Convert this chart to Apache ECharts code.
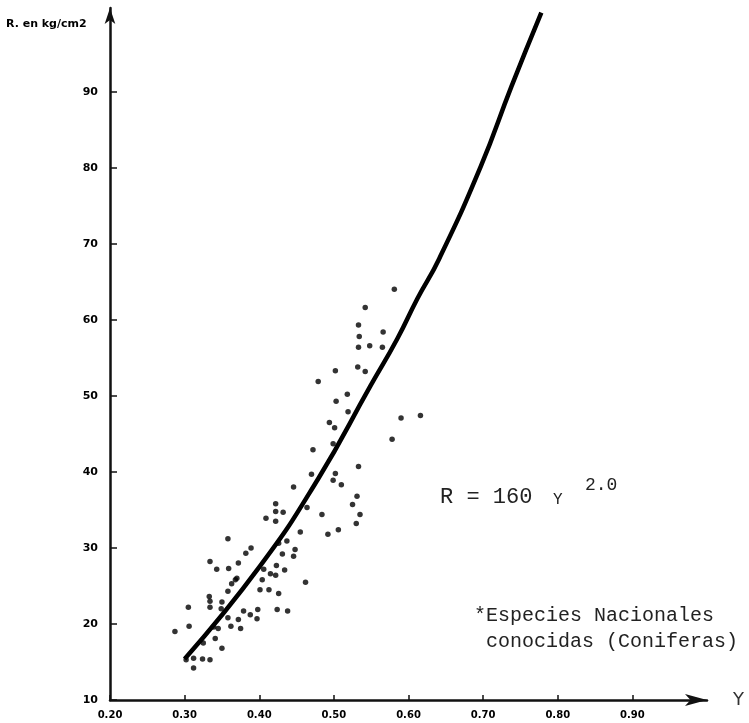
<!DOCTYPE html>
<html lang="es">
<head>
	<meta charset="UTF-8">
	<title>R vs Y</title>
	<script src="https://cdn.jsdelivr.net/npm/echarts@6/dist/echarts.min.js"></script>
</head>
<body style="margin:0;background:#fff;">
	<div id="main" style="width: 749px; height: 723px;"></div>
	<script type="text/javascript">
		// tick values of both axes
		const xTicks = [0.2, 0.3, 0.4, 0.5, 0.6, 0.7, 0.8, 0.9];
		const yTicks = [10, 20, 30, 40, 50, 60, 70, 80, 90];

		// measured points: Y (density) and R (kg/cm2)
		const dotY = [0.542, 0.581, 0.533, 0.534, 0.566, 0.533, 0.548, 0.565, 0.502, 0.532,
			0.542, 0.479, 0.518, 0.503, 0.519, 0.494, 0.501, 0.590, 0.616, 0.578,
			0.499, 0.472, 0.533, 0.470, 0.502, 0.499, 0.510, 0.446, 0.531, 0.525,
			0.535, 0.530, 0.422, 0.422, 0.432, 0.422, 0.409, 0.464, 0.484, 0.455,
			0.492, 0.506, 0.358, 0.389, 0.382, 0.437, 0.448, 0.446, 0.431, 0.426,
			0.334, 0.372, 0.343, 0.359, 0.423, 0.434, 0.406, 0.415, 0.422, 0.370,
			0.368, 0.363, 0.462, 0.404, 0.358, 0.401, 0.413, 0.426, 0.333, 0.334,
			0.305, 0.334, 0.350, 0.349, 0.379, 0.398, 0.424, 0.438, 0.358, 0.372,
			0.388, 0.397, 0.306, 0.339, 0.345, 0.362, 0.375, 0.287, 0.341, 0.325,
			0.350, 0.302, 0.312, 0.324, 0.334, 0.312];
		const dotR = [61.6, 64.0, 59.3, 57.8, 58.4, 56.4, 56.6, 56.4, 53.3, 53.8,
			53.2, 51.9, 50.2, 49.3, 47.9, 46.5, 45.8, 47.1, 47.4, 44.3,
			43.7, 42.9, 40.7, 39.7, 39.8, 38.9, 38.3, 38.0, 36.8, 35.7,
			34.4, 33.2, 35.8, 34.8, 34.7, 33.5, 33.9, 35.3, 34.4, 32.1,
			31.8, 32.4, 31.2, 30.0, 29.3, 30.9, 29.8, 28.9, 29.2, 30.6,
			28.2, 28.0, 27.2, 27.3, 27.7, 27.1, 27.2, 26.6, 26.4, 26.0,
			25.8, 25.3, 25.5, 25.8, 24.3, 24.5, 24.5, 24.0, 23.6, 23.0,
			22.2, 22.2, 22.9, 22.0, 21.7, 21.9, 21.9, 21.7, 20.8, 20.6,
			21.2, 20.7, 19.7, 19.6, 19.4, 19.7, 19.4, 19.0, 18.1, 17.5,
			16.8, 15.3, 15.5, 15.4, 15.3, 14.2];

		// fitted curve as drawn (R = 160 Y^2.0)
		const curveY = [0.300, 0.401, 0.479, 0.549, 0.585, 0.612, 0.641, 0.697, 0.738, 0.778];
		const curveR = [15.4, 27.6, 39.1, 51.3, 57.5, 62.8, 68.0, 80.2, 90.7, 100.4];

		const chart = echarts.init(document.getElementById('main'));

		const dots = dotY.map((v, i) => [v, dotR[i]]);
		const curve = curveY.map((v, i) => [v, curveR[i]]);

		const mono = 'Liberation Mono';

		chart.setOption({
			animation: false,
			backgroundColor: '#fff',
			grid: { left: 110, right: 42, top: 8, bottom: 23 },
			xAxis: {
				type: 'value',
				min: 0.2,
				max: 1.0,
				name: 'Y',
				nameLocation: 'end',
				nameGap: 26,
				nameTextStyle: { fontSize: 18, color: '#333', fontFamily: 'DejaVu Sans', verticalAlign: 'middle', padding: [6, 0, 0, 0] },
				splitLine: { show: false },
				axisLine: {
					lineStyle: { color: '#111', width: 2.5 },
					symbol: ['none', 'arrow'],
					symbolSize: [9, 22]
				},
				axisTick: { inside: true, length: 5, customValues: xTicks, lineStyle: { color: '#111', width: 1.5 } },
				axisLabel: {
					customValues: xTicks,
					formatter: v => v.toFixed(2),
					margin: 10,
					color: '#000',
					fontSize: 10,
					fontWeight: 'bold',
					fontFamily: 'DejaVu Sans'
				}
			},
			yAxis: {
				type: 'value',
				min: 10,
				max: 101,
				splitLine: { show: false },
				axisLine: {
					lineStyle: { color: '#111', width: 2.5 },
					symbol: ['none', 'arrow'],
					symbolSize: [8, 16]
				},
				axisTick: { inside: true, length: 7, customValues: yTicks, lineStyle: { color: '#111', width: 1.5 } },
				axisLabel: {
					customValues: yTicks,
					margin: 12,
					color: '#000',
					fontSize: 11,
					fontWeight: 'bold',
					fontFamily: 'DejaVu Sans'
				}
			},
			graphic: [
				{ type: 'text', left: 6, top: 19, style: { text: 'R. en kg/cm2', fontSize: 11, fontWeight: 'bold', fontFamily: 'DejaVu Sans', fill: '#000' } },
				{ type: 'text', left: 440, top: 486, style: { text: 'R = 160', fontSize: 22, fontFamily: mono, fill: '#222' } },
				{ type: 'text', left: 553, top: 492, style: { text: 'Y', fontSize: 16, fontFamily: mono, fill: '#222' } },
				{ type: 'text', left: 585, top: 476, style: { text: '2.0', fontSize: 18, fontFamily: mono, fill: '#222' } },
				{ type: 'text', left: 474, top: 606, style: { text: '*Especies Nacionales', fontSize: 20, fontFamily: mono, fill: '#222' } },
				{ type: 'text', left: 474, top: 632, style: { text: ' conocidas (Coniferas)', fontSize: 20, fontFamily: mono, fill: '#222' } }
			],
			series: [
				{
					type: 'scatter',
					data: dots,
					symbolSize: 5.5,
					itemStyle: { color: '#000' },
					z: 3
				},
				{
					type: 'line',
					data: curve,
					smooth: true,
					symbol: 'none',
					lineStyle: { color: '#000', width: 4.5 },
					z: 4
				}
			]
		});
	</script>
</body>
</html>
